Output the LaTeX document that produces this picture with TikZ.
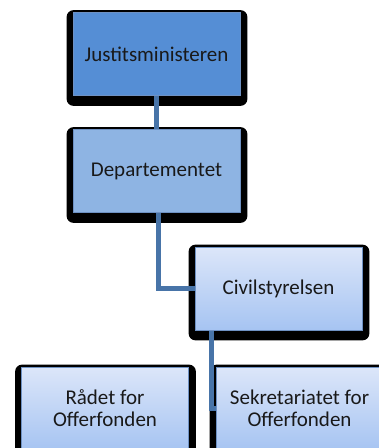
\documentclass[tikz,border=0pt]{standalone}
\usepackage{fontspec}
\setmainfont{Carlito}
\usetikzlibrary{backgrounds}

\definecolor{topblue}{RGB}{85,142,213}
\definecolor{midblue}{RGB}{142,180,227}
\definecolor{paleblue}{RGB}{220,230,249}
\definecolor{lowblue}{RGB}{166,196,242}
\definecolor{linkblue}{RGB}{72,116,168}
\definecolor{edgeblue}{RGB}{110,145,195}

\tikzset{
  orgbox/.style={draw=edgeblue, line width=0.8pt, minimum width=167pt, minimum height=83pt,
    inner sep=0pt, align=center, text=black!90,
    font=\fontsize{21}{22}\selectfont},
  toplevel/.style={orgbox, fill=topblue},
  midlevel/.style={orgbox, fill=midblue},
  lowlevel/.style={orgbox, top color=paleblue, bottom color=lowblue},
  shadowbox/.style={fill=black, rounded corners=7pt},
  link/.style={draw=linkblue, line width=5pt}
}

\begin{document}
\begin{tikzpicture}[x=1pt, y=-1pt]

\useasboundingbox (0,0) rectangle (379,448);

% Boxes of the chart
\node[toplevel] (jm) at (156.5,54) {Justitsministeren};
\node[midlevel] (dep) at (156.5,171) {Departementet};
\node[lowlevel] (civ) at (278.5,288.5) {Civilstyrelsen};
\node[lowlevel] (raad) at (105,408.5) {Rådet for\\Offerfonden};
\node[lowlevel] (sekr) at (299.5,408.5) {Sekretariatet for\\Offerfonden};

\begin{scope}[on background layer]
% Black shadows behind the boxes
\foreach \n in {jm,dep,civ,raad,sekr}
  \fill[shadowbox] ([shift={(-6,-2)}]\n.north west) rectangle ([shift={(7,10)}]\n.south east);

% Connecting lines
\draw[link] (jm.south) -- (dep.north);
\draw[link] ([xshift=1.5pt]dep.south) |- (civ.west);
\draw[link] ([xshift=17pt]civ.south west) |- (sekr.west);
\end{scope}

\end{tikzpicture}
\end{document}
